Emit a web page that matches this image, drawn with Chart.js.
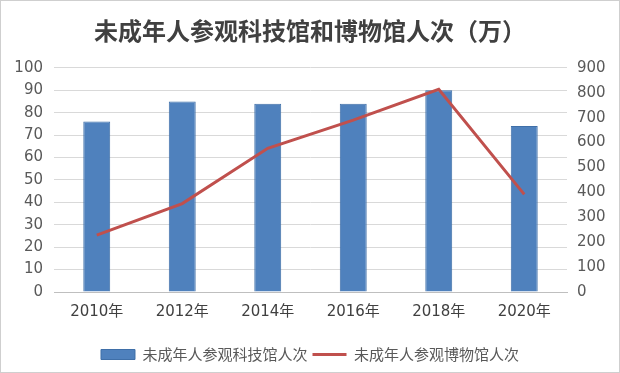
<!DOCTYPE html>
<html>
<head>
<meta charset="utf-8">
<script src="https://cdn.jsdelivr.net/npm/chart.js@4.4.1/dist/chart.umd.min.js"></script>
<style>
  html, body { margin: 0; padding: 0; background: #fff; }
  #wrap { width: 620px; height: 373px; box-sizing: border-box; border: 1px solid #cfcfcf; }
  canvas { display: block; }
</style>
</head>
<body>
<div id="wrap"><canvas id="c" width="618" height="371"></canvas></div>
<script>
const years = ['2010年', '2012年', '2014年', '2016年', '2018年', '2020年'];
const scienceMuseum = [76, 85, 84, 84, 90, 74];      // left axis
const museum = [228, 355, 577, 690, 814, 392];       // right axis
const leftTicks = [0, 100, 10];
const rightTicks = [0, 900, 100];

const tickFont = { family: "'DejaVu Sans', 'Noto Sans CJK SC', sans-serif", size: 15 };

new Chart(document.getElementById('c'), {
  data: {
    labels: years,
    datasets: [
      {
        type: 'bar',
        label: '未成年人参观科技馆人次',
        data: scienceMuseum,
        yAxisID: 'y',
        backgroundColor: '#4F81BD',
        borderColor: '#3F6FA8',
        borderWidth: 1,
        barPercentage: 0.315,
        categoryPercentage: 1,
        pointStyle: 'rect',
        order: 2
      },
      {
        type: 'line',
        label: '未成年人参观博物馆人次',
        data: museum,
        yAxisID: 'y1',
        borderColor: '#C0504D',
        backgroundColor: '#C0504D',
        borderWidth: 3,
        pointRadius: 0,
        pointStyle: 'line',
        tension: 0,
        order: 1
      }
    ]
  },
  options: {
    responsive: false,
    animation: false,
    layout: { padding: 0 },
    plugins: {
      title: {
        display: true,
        text: '未成年人参观科技馆和博物馆人次（万）',
        color: '#404040',
        font: { family: "'Noto Sans CJK SC', sans-serif", size: 24, weight: 'bold' },
        padding: { top: 15, bottom: 23 }
      },
      legend: {
        position: 'bottom',
        labels: {
          usePointStyle: true,
          pointStyleWidth: 34,
          boxHeight: 10,
          padding: 5,
          color: '#595959',
          font: { family: "'Noto Sans CJK SC', sans-serif", size: 15 },
          sort: (a, b) => a.datasetIndex - b.datasetIndex
        }
      },
      tooltip: { enabled: false }
    },
    scales: {
      x: {
        grid: { display: false },
        border: { display: true, color: '#bfbfbf', width: 1 },
        ticks: { color: '#404040', font: tickFont, padding: 3 },
        afterFit: (s) => { s.height = 50; }
      },
      y: {
        position: 'left',
        min: leftTicks[0], max: leftTicks[1],
        ticks: { stepSize: leftTicks[2], color: '#595959', font: tickFont, padding: 11 },
        grid: { color: '#d9d9d9', drawTicks: false },
        border: { display: false },
        afterFit: (s) => { s.width = 53; }
      },
      y1: {
        position: 'right',
        min: rightTicks[0], max: rightTicks[1],
        ticks: { stepSize: rightTicks[2], color: '#595959', font: tickFont, padding: 10 },
        grid: { drawOnChartArea: false, drawTicks: false },
        border: { display: false },
        afterFit: (s) => { s.width = 52; }
      }
    }
  }
});
</script>
</body>
</html>
